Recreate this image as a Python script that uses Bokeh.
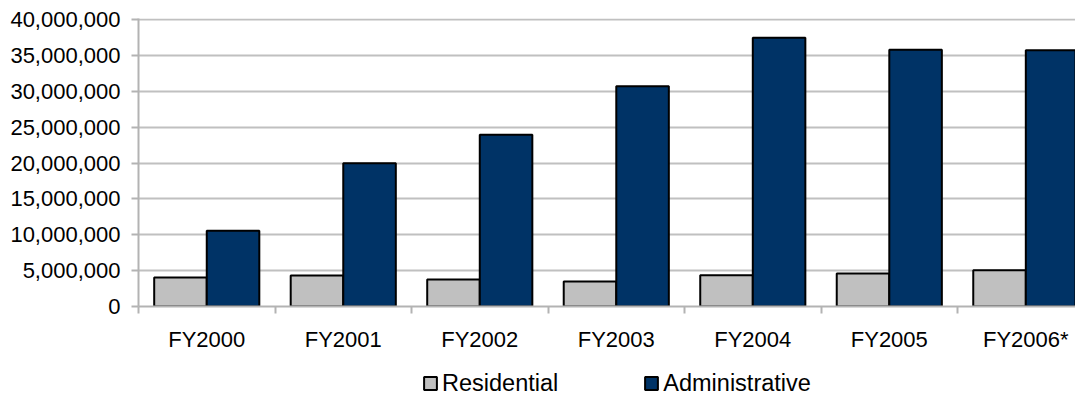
from bokeh.plotting import figure
from bokeh.layouts import column
from bokeh.models import (Range1d, FixedTicker, NumeralTickFormatter, Legend,
                          LegendItem, ColumnDataSource)
from bokeh.embed import file_html
from bokeh.resources import INLINE

categories = ["FY2000", "FY2001", "FY2002", "FY2003", "FY2004", "FY2005", "FY2006*"]
residential = [4.05e6, 4.33e6, 3.77e6, 3.5e6, 4.35e6, 4.6e6, 5.05e6]
administrative = [10.55e6, 19.95e6, 23.95e6, 30.7e6, 37.45e6, 35.8e6, 35.7e6]
series_names = ["Residential", "Administrative"]
y_ticks = [0, 5e6, 10e6, 15e6, 20e6, 25e6, 30e6, 35e6, 40e6]

FONT = "Liberation Sans"
GRID = "#c0c0c0"
AXIS = "#b3b3b3"
RES_COLOR = "#c0c0c0"
ADM_COLOR = "#003366"

idx = list(range(len(categories)))
centers = [i + 0.5 for i in idx]
bw = 0.385
src = ColumnDataSource(dict(
    xr=[c - bw / 2 for c in centers],
    xa=[c + bw / 2 for c in centers],
    res=residential,
    adm=administrative,
))

p = figure(width=1075, height=360, output_backend="svg", toolbar_location=None,
           x_range=Range1d(0, 6.864), y_range=Range1d(0, 40.14e6),
           min_border_left=138, min_border_right=0, min_border_top=18,
           min_border_bottom=54)
p.outline_line_color = None
p.background_fill_color = "white"
p.border_fill_color = "white"

p.vbar(x="xr", top="res", width=bw, source=src, fill_color=RES_COLOR,
       line_color="black", line_width=2)
p.vbar(x="xa", top="adm", width=bw, source=src, fill_color=ADM_COLOR,
       line_color="black", line_width=2)

# x axis
xa = p.xaxis[0]
xa.ticker = FixedTicker(ticks=centers, minor_ticks=[float(i) for i in range(len(categories) + 1)])
xa.major_label_overrides = {c: n for c, n in zip(centers, categories)}
xa.major_tick_line_color = None
xa.major_tick_out = 7
xa.major_tick_in = 0
xa.minor_tick_line_color = AXIS
xa.minor_tick_line_width = 2
xa.minor_tick_out = 7
xa.minor_tick_in = 0
xa.axis_line_color = AXIS
xa.axis_line_width = 2
xa.major_label_standoff = 13
xa.major_label_text_font = FONT
xa.major_label_text_font_size = "22px"
xa.major_label_text_color = "black"

# y axis
ya = p.yaxis[0]
ya.ticker = FixedTicker(ticks=y_ticks)
ya.formatter = NumeralTickFormatter(format="0,0")
ya.major_tick_line_color = AXIS
ya.major_tick_line_width = 2
ya.major_tick_out = 7
ya.major_tick_in = 0
ya.minor_tick_line_color = None
ya.axis_line_color = AXIS
ya.axis_line_width = 2
ya.major_label_standoff = 11
ya.major_label_text_font = FONT
ya.major_label_text_font_size = "22px"
ya.major_label_text_color = "black"

p.xgrid.grid_line_color = None
p.ygrid.grid_line_color = GRID
p.ygrid.grid_line_width = 2
p.ygrid.ticker = FixedTicker(ticks=y_ticks)

# legend strip below the chart
lg = figure(width=1075, height=34, output_backend="svg", toolbar_location=None,
            x_range=Range1d(0, 1075), y_range=Range1d(0, 34),
            x_axis_location=None, y_axis_location=None,
            min_border_left=0, min_border_right=0, min_border_top=0,
            min_border_bottom=0)
lg.frame_align = False
lg.outline_line_color = None
lg.xgrid.visible = False
lg.ygrid.visible = False
# stand-ins lying far outside the strip, so that the swatches take the series' styles
lr = lg.vbar(x=[5000], top=[-500], bottom=[-600], width=1, fill_color=RES_COLOR,
             line_color="black", line_width=2)
la = lg.vbar(x=[5000], top=[-500], bottom=[-600], width=1, fill_color=ADM_COLOR,
             line_color="black", line_width=2)

legend = Legend(items=[LegendItem(label=series_names[0], renderers=[lr]),
                       LegendItem(label=series_names[1], renderers=[la])],
                orientation="horizontal", location=(422, -5),
                glyph_width=16, glyph_height=16, label_standoff=4, spacing=85,
                label_height=32,
                padding=0, margin=0, border_line_color=None,
                background_fill_alpha=0, label_text_font=FONT,
                label_text_baseline="alphabetic",
                label_text_font_size="23.5px", label_text_color="black")
lg.add_layout(legend, "center")

layout = column(p, lg, spacing=0)
open("out.html", "w").write(file_html(layout, INLINE))
